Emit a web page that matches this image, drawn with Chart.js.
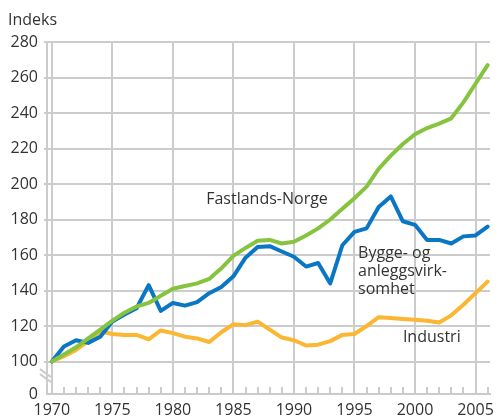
<!DOCTYPE html>
<html><head><meta charset="utf-8">
<script src="https://cdn.jsdelivr.net/npm/chart.js@4.4.1/dist/chart.umd.min.js"></script>
<style>html,body{margin:0;padding:0;background:#fff}#wrap{width:501px;height:420px;position:relative}</style>
</head><body><div id="wrap"><canvas id="c" width="501" height="420"></canvas></div>
<script>
// ---- data ----
const years = [1970,1971,1972,1973,1974,1975,1976,1977,1978,1979,1980,1981,1982,1983,1984,1985,1986,1987,1988,1989,1990,1991,1992,1993,1994,1995,1996,1997,1998,1999,2000,2001,2002,2003,2004,2005,2006];
const fastlandsNorge = [100,104,108,113,118,123,127.5,131,133,137,141,142.5,144,146.5,152.5,159.5,164,168,168.5,166.5,167.5,171,175,180,186,192,198.5,208.5,216,222.5,228,231.5,234,237,246,256.5,267];
const byggAnlegg = [100,108.5,112,110.5,114,122.5,126.5,130,143,128.5,133,131.5,133.5,138.5,142,148,158.5,164.5,165,162,159,153.5,155.5,144,165.5,173,175,187,193,179,177,168.5,168.5,166.5,170.5,171,176];
const industri = [100,103,106.5,111.5,117,115.5,115,115,112.5,117.5,116,114,113,111,116.5,121,120.5,122.5,118,113.5,112,109,109.5,111.5,115,115.5,120,125,124.5,124,123.5,123,122,126,132,138.5,145];
const xTickYears = [1970,1975,1980,1985,1990,1995,2000,2005];
const yTickValues = [100,120,140,160,180,200,220,240,260,280];
const breakLabel = '0';
const yAxisTitle = 'Indeks';
const seriesLabels = ['Fastlands-Norge', ['Bygge- og','anleggsvirk-','somhet'], 'Industri'];

// ---- styling ----
const Y_MIN = 81.7, Y_MAX = 280;
const GRID = '#cccccc';
const TEXT = '#333333';
const FONT = "'Open Sans', 'Noto Sans', sans-serif";
Chart.defaults.font.family = FONT;
Chart.defaults.font.size = 16;
Chart.defaults.color = TEXT;

const toPts = arr => years.map((y, i) => ({x: y, y: arr[i]}));

const decor = {
  id: 'decor',
  beforeDatasetsDraw(chart) {
    const {ctx, chartArea, scales} = chart;
    const xs = scales.x;
    ctx.save();
    ctx.strokeStyle = GRID;
    ctx.lineWidth = 2;
    years.forEach(y => {
      const px = Math.round(xs.getPixelForValue(y));
      ctx.beginPath();
      ctx.moveTo(px, chartArea.bottom - 7);
      ctx.lineTo(px, chartArea.bottom);
      ctx.stroke();
    });
    ctx.restore();
  },
  afterDatasetsDraw(chart) {
    const {ctx, chartArea, scales} = chart;
    const xs = scales.x, ys = scales.y;
    ctx.save();
    // axis break mark
    ctx.strokeStyle = GRID;
    ctx.lineWidth = 2;
    const bx = chartArea.left, by = ys.getPixelForValue(91.5);
    [-2.5, 2.5].forEach(d => {
      ctx.beginPath();
      ctx.moveTo(bx - 7, by - 5 + d);
      ctx.lineTo(bx + 4, by + 3 + d);
      ctx.stroke();
    });
    // texts
    ctx.fillStyle = TEXT;
    ctx.font = '16px ' + FONT;
    ctx.textBaseline = 'middle';
    ctx.textAlign = 'left';
    ctx.fillText(yAxisTitle, 8, 20);
    ctx.fillText(seriesLabels[0], xs.getPixelForValue(1982.75), ys.getPixelForValue(191.1));
    const bxl = xs.getPixelForValue(1995.3), byl = ys.getPixelForValue(161.1);
    seriesLabels[1].forEach((t, i) => ctx.fillText(t, bxl, byl + i * 18.4));
    ctx.fillText(seriesLabels[2], xs.getPixelForValue(1999.0), ys.getPixelForValue(113.3));
    ctx.restore();
  }
};

new Chart(document.getElementById('c'), {
  type: 'line',
  data: {
    datasets: [
      {label: 'Fastlands-Norge', data: toPts(fastlandsNorge), borderColor: '#86c440', order: 0},
      {label: 'Bygge- og anleggsvirksomhet', data: toPts(byggAnlegg), borderColor: '#0a77c4', order: 1},
      {label: 'Industri', data: toPts(industri), borderColor: '#fbb632', order: 2}
    ]
  },
  options: {
    responsive: false,
    animation: false,
    devicePixelRatio: 1,
    layout: {padding: {top: 42, right: 6, left: 0, bottom: 0}},
    elements: {
      line: {borderWidth: 4, tension: 0, borderJoinStyle: 'round', borderCapStyle: 'round', fill: false},
      point: {radius: 0, hoverRadius: 0}
    },
    plugins: {legend: {display: false}, tooltip: {enabled: false}, title: {display: false}},
    scales: {
      x: {
        type: 'linear', min: 1969.6, max: 2006.2,
        afterBuildTicks: s => { s.ticks = xTickYears.map(v => ({value: v})); },
        afterFit: s => { s.height = 26; },
        ticks: {autoSkip: false, maxRotation: 0, padding: 7, callback: v => String(v), color: TEXT},
        grid: {color: GRID, lineWidth: 2, drawTicks: false},
        border: {color: GRID, width: 2}
      },
      y: {
        type: 'linear', min: Y_MIN, max: Y_MAX,
        afterBuildTicks: s => { s.ticks = [{value: Y_MIN}].concat(yTickValues.map(v => ({value: v}))); },
        afterFit: s => { s.width = 47; },
        ticks: {autoSkip: false, padding: 6, callback: v => (v === Y_MIN ? breakLabel : String(v)), color: TEXT},
        grid: {color: ctx => (ctx.tick && ctx.tick.value === Y_MIN ? 'rgba(0,0,0,0)' : GRID), lineWidth: 2, drawTicks: true, tickLength: 3},
        border: {color: GRID, width: 2}
      }
    }
  },
  plugins: [decor]
});
</script>
</body></html>
